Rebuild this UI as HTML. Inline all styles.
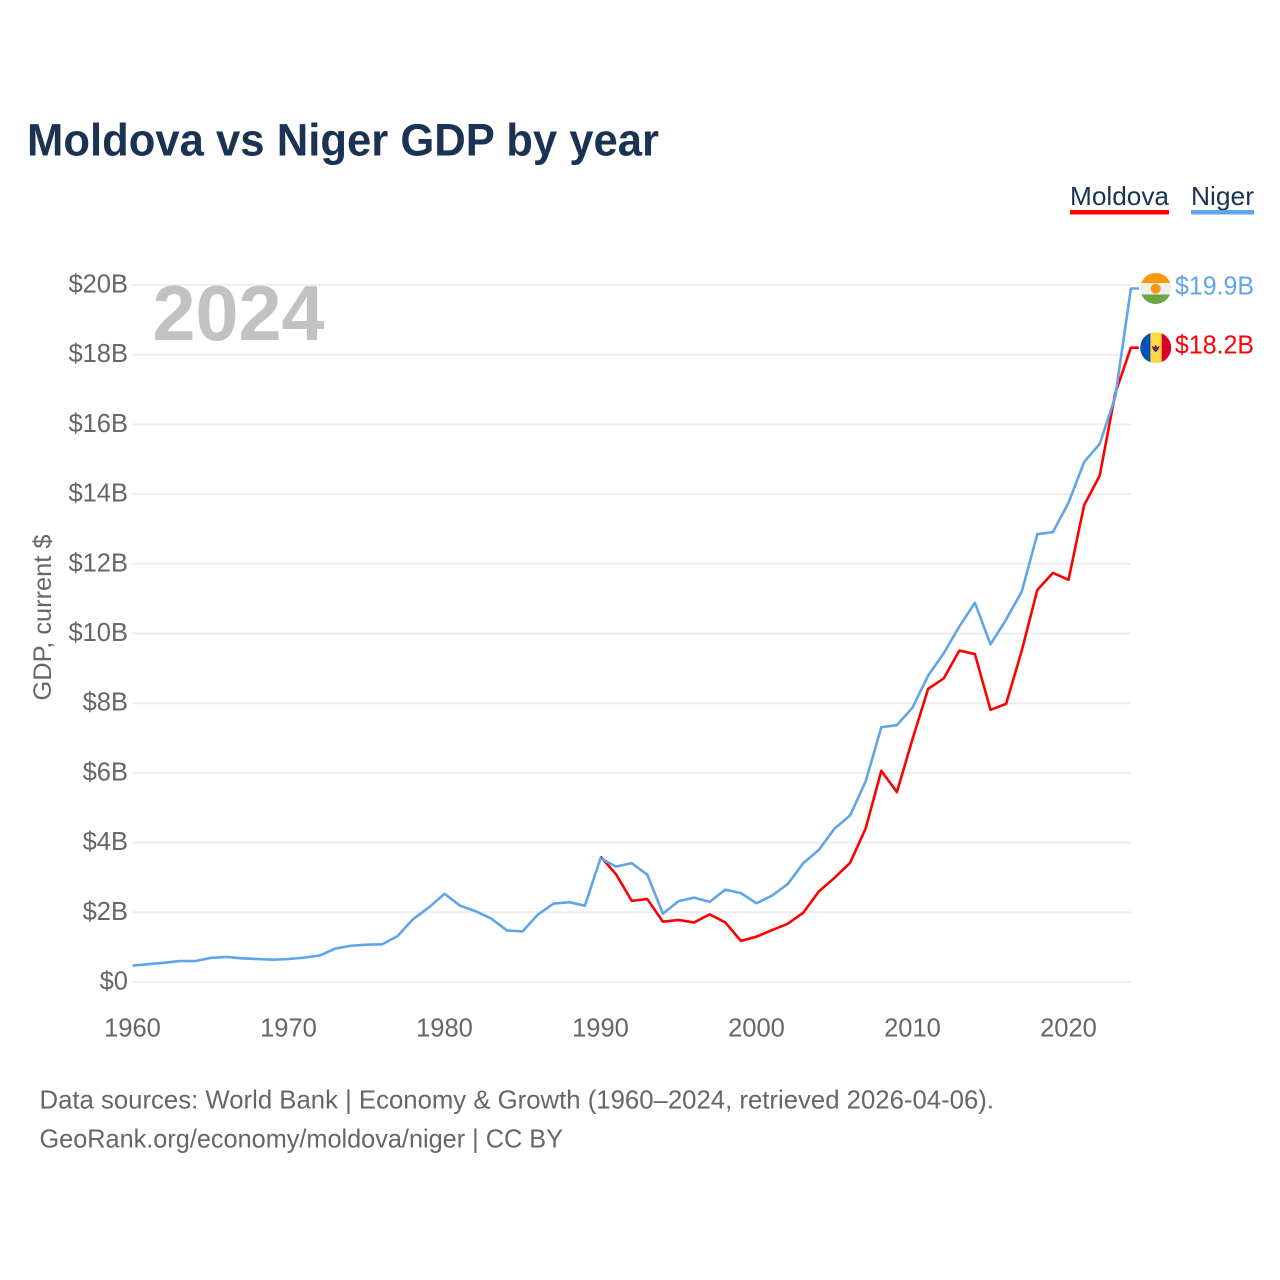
<!DOCTYPE html>
<html lang="en">
<head>
<meta charset="utf-8">
<title>Moldova vs Niger GDP by year</title>
<style>
html,body{margin:0;padding:0;background:#fff}
svg{display:block}
text{font-family:"Liberation Sans",sans-serif}
</style>
</head>
<body>
<svg id="chart" xmlns="http://www.w3.org/2000/svg" width="1280" height="1280" viewBox="0 0 1280 1280">
  <defs>
    <clipPath id="flag-clip-ne"><circle cx="0" cy="0" r="15.5"/></clipPath>
    <clipPath id="flag-clip-md"><circle cx="0" cy="0" r="15.5"/></clipPath>
  </defs>
  <text x="27" y="155.5" font-size="45" font-weight="700" fill="#1a3353" textLength="632" lengthAdjust="spacingAndGlyphs">Moldova vs Niger GDP by year</text>

  <g>
    <text x="1070" y="205" font-size="26" fill="#1a3353" textLength="99" lengthAdjust="spacingAndGlyphs">Moldova</text>
    <rect x="1070" y="210" width="99" height="4.5" fill="#ff0000"/>
  </g>
  <g>
    <text x="1191" y="205" font-size="26" fill="#1a3353" textLength="63" lengthAdjust="spacingAndGlyphs">Niger</text>
    <rect x="1191" y="210" width="63" height="4.5" fill="#60a5ec"/>
  </g>

  <g id="grid"></g>
  <g id="y-ticks"></g>
  <g id="x-ticks"></g>

  <text x="152.5" y="340" font-size="78" font-weight="700" fill="#c2c2c2" textLength="172" lengthAdjust="spacingAndGlyphs">2024</text>

  <text transform="translate(51 700.5) rotate(-90)" x="0" y="0" font-size="25" fill="#666666" textLength="166" lengthAdjust="spacingAndGlyphs">GDP, current $</text>

  <g id="series"></g>

  <g id="flag-niger">
    <g clip-path="url(#flag-clip-ne)">
      <rect x="-16" y="-16" width="32" height="32" fill="#f0f0f0"/>
      <rect x="-16" y="-16" width="32" height="10.5" fill="#ff9811"/>
      <rect x="-16" y="6" width="32" height="10" fill="#6da544"/>
      <circle cx="0" cy="0.3" r="5" fill="#ff9811"/>
    </g>
  </g>
  <g id="flag-moldova">
    <g clip-path="url(#flag-clip-md)">
      <rect x="-16" y="-16" width="32" height="32" fill="#ffda44"/>
      <rect x="-16" y="-16" width="10.7" height="32" fill="#0052b4"/>
      <rect x="6" y="-16" width="10" height="32" fill="#d80027"/>
      <path d="M-4 -2 L-1.5 -0.5 L0 -3 L1.5 -0.5 L4 -2 L2.5 2 L0 4.5 L-2.5 2 Z" fill="#a2001d"/>
      <rect x="-1.5" y="-0.5" width="3" height="3" fill="#0052b4"/>
    </g>
  </g>

  <text id="label-niger" x="1175" font-size="26" fill="#60a5ec" textLength="79" lengthAdjust="spacingAndGlyphs"></text>
  <text id="label-moldova" x="1175" font-size="26" fill="#ff0000" textLength="79" lengthAdjust="spacingAndGlyphs"></text>

  <text x="39.5" y="1108.5" font-size="26" fill="#666666" textLength="954.5" lengthAdjust="spacingAndGlyphs">Data sources: World Bank | Economy &amp; Growth (1960–2024, retrieved 2026-04-06).</text>
  <text x="39.5" y="1147.5" font-size="26" fill="#666666" textLength="523.5" lengthAdjust="spacingAndGlyphs">GeoRank.org/economy/moldova/niger | CC BY</text>
</svg>
<script>
var yTickValues = [0, 2, 4, 6, 8, 10, 12, 14, 16, 18, 20];
var yTickLabels = ["$0", "$2B", "$4B", "$6B", "$8B", "$10B", "$12B", "$14B", "$16B", "$18B", "$20B"];
var xTickValues = [1960, 1970, 1980, 1990, 2000, 2010, 2020];
var nigerYears = [1960,1961,1962,1963,1964,1965,1966,1967,1968,1969,1970,1971,1972,1973,1974,1975,1976,1977,1978,1979,1980,1981,1982,1983,1984,1985,1986,1987,1988,1989,1990,1991,1992,1993,1994,1995,1996,1997,1998,1999,2000,2001,2002,2003,2004,2005,2006,2007,2008,2009,2010,2011,2012,2013,2014,2015,2016,2017,2018,2019,2020,2021,2022,2023,2024];
var nigerValues = [0.47,0.51,0.55,0.60,0.60,0.69,0.72,0.68,0.66,0.64,0.66,0.70,0.76,0.96,1.04,1.07,1.08,1.32,1.81,2.14,2.53,2.19,2.03,1.82,1.48,1.45,1.94,2.25,2.29,2.19,3.55,3.31,3.41,3.08,1.96,2.32,2.42,2.30,2.65,2.55,2.26,2.48,2.81,3.41,3.79,4.40,4.78,5.76,7.31,7.37,7.87,8.79,9.43,10.2,10.88,9.69,10.4,11.2,12.85,12.91,13.75,14.92,15.44,16.8,19.9];
var moldovaYears = [1990,1991,1992,1993,1994,1995,1996,1997,1998,1999,2000,2001,2002,2003,2004,2005,2006,2007,2008,2009,2010,2011,2012,2013,2014,2015,2016,2017,2018,2019,2020,2021,2022,2023,2024];
var moldovaValues = [3.6,3.09,2.33,2.38,1.73,1.78,1.71,1.94,1.71,1.18,1.30,1.49,1.67,1.99,2.6,2.99,3.42,4.41,6.06,5.45,6.97,8.41,8.71,9.51,9.41,7.81,7.98,9.5,11.25,11.74,11.54,13.68,14.53,16.9,18.2];

var NS = 'http://www.w3.org/2000/svg';
function xScale(year) { return 132.5 + (year - 1960) * 15.6; }
function yScale(v) { return 982 - v * 34.85; }
function money(v) { return '$' + v.toFixed(1) + 'B'; }

var gridG = document.getElementById('grid');
var yG = document.getElementById('y-ticks');
yTickValues.forEach(function (v, i) {
  var line = document.createElementNS(NS, 'line');
  
  
  line.setAttribute('x1', 132.5);
  line.setAttribute('x2', xScale(2024));
  line.setAttribute('y1', yScale(v));
  line.setAttribute('y2', yScale(v));
  line.setAttribute('stroke', '#eeeeee');
  line.setAttribute('stroke-width', 2);
  gridG.appendChild(line);

  var t = document.createElementNS(NS, 'text');
  
  
  t.setAttribute('x', 128);
  t.setAttribute('y', yScale(v) + 7.5);
  t.setAttribute('text-anchor', 'end');
  t.setAttribute('font-size', 25.5);
  t.setAttribute('fill', '#666666');
  t.textContent = yTickLabels[i];
  yG.appendChild(t);
});

var xG = document.getElementById('x-ticks');
xTickValues.forEach(function (year) {
  var t = document.createElementNS(NS, 'text');
  
  
  t.setAttribute('x', xScale(year));
  t.setAttribute('y', 1036.5);
  t.setAttribute('text-anchor', 'middle');
  t.setAttribute('font-size', 25.5);
  t.setAttribute('fill', '#666666');
  t.textContent = String(year);
  xG.appendChild(t);
});

var seriesG = document.getElementById('series');
function pathFor(years, values) {
  var d = years.map(function (yr, i) {
    return (i ? 'L' : 'M') + xScale(yr).toFixed(2) + ' ' + yScale(values[i]).toFixed(2);
  }).join(' ');
  var last = values[values.length - 1];
  return d + ' L' + (xScale(years[years.length - 1]) + 8).toFixed(2) + ' ' + yScale(last).toFixed(2);
}

var moldovaLine = document.createElementNS(NS, 'path');


moldovaLine.setAttribute('d', pathFor(moldovaYears, moldovaValues));
moldovaLine.setAttribute('fill', 'none');
moldovaLine.setAttribute('stroke', '#ff0000');
moldovaLine.setAttribute('stroke-width', 2.6);
moldovaLine.setAttribute('stroke-linejoin', 'round');
seriesG.appendChild(moldovaLine);

var nigerLine = document.createElementNS(NS, 'path');


nigerLine.setAttribute('d', pathFor(nigerYears, nigerValues));
nigerLine.setAttribute('fill', 'none');
nigerLine.setAttribute('stroke', '#60a5ec');
nigerLine.setAttribute('stroke-width', 2.6);
nigerLine.setAttribute('stroke-linejoin', 'round');
seriesG.appendChild(nigerLine);

var nigerEnd = nigerValues[nigerValues.length - 1];
var moldovaEnd = moldovaValues[moldovaValues.length - 1];
document.getElementById('flag-niger').setAttribute('transform', 'translate(1155.7 ' + yScale(nigerEnd) + ')');
document.getElementById('flag-moldova').setAttribute('transform', 'translate(1155.7 ' + yScale(moldovaEnd) + ')');
var labelNiger = document.getElementById('label-niger');
labelNiger.setAttribute('y', yScale(nigerEnd) + 6);
labelNiger.textContent = money(nigerEnd);
var labelMoldova = document.getElementById('label-moldova');
labelMoldova.setAttribute('y', yScale(moldovaEnd) + 6);
labelMoldova.textContent = money(moldovaEnd);
</script>
</body>
</html>
